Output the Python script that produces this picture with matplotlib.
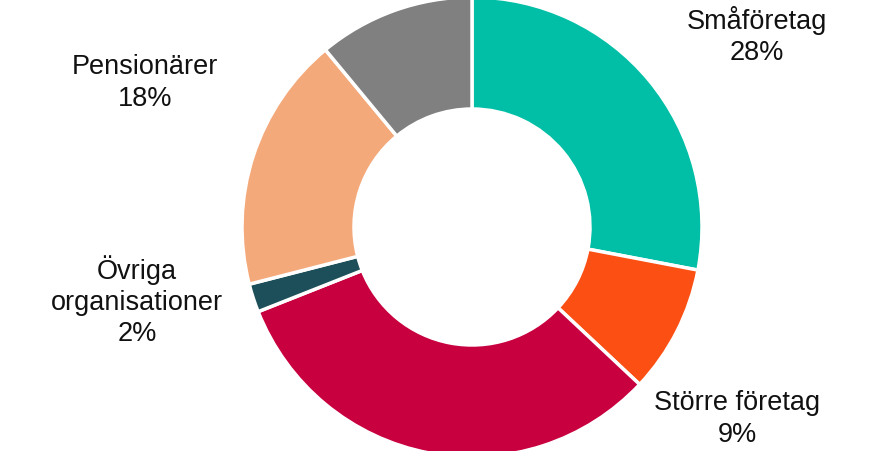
import matplotlib.pyplot as plt

plt.rcParams['font.family'] = ['Liberation Sans', 'DejaVu Sans']

# andelar, medurs från klockan tolv
kategorier = ['Småföretag', 'Större företag', '', 'Övriga\norganisationer', 'Pensionärer', '']
andelar = [28, 9, 32, 2, 18, 11]
farger = ['#00bfa6', '#fc4f14', '#c8003f', '#1d4f5a', '#f4a97a', '#808080']

# etiketter som visas i figuren (index, x, y)
etiketter = [(0, 757, 415), (1, 737, 32), (3, 137, 150), (4, 145, 368)]

fig = plt.figure(figsize=(8.93, 4.51), dpi=100)
ax = fig.add_axes([0, 0, 1, 1])
ax.pie(andelar, colors=farger, startangle=90, counterclock=False,
       center=(472, 224), radius=230,
       wedgeprops=dict(width=112, edgecolor='white', linewidth=2.5))
ax.set_xlim(0, 893)
ax.set_ylim(0, 451)
ax.set_aspect('equal')
ax.axis('off')

for i, x, y in etiketter:
    ax.text(x, y, f'{kategorier[i]}\n{andelar[i]}%', ha='center', va='center',
            fontsize=19.5, color='#111111', linespacing=1.25)

fig.savefig('out.png', dpi=100)
